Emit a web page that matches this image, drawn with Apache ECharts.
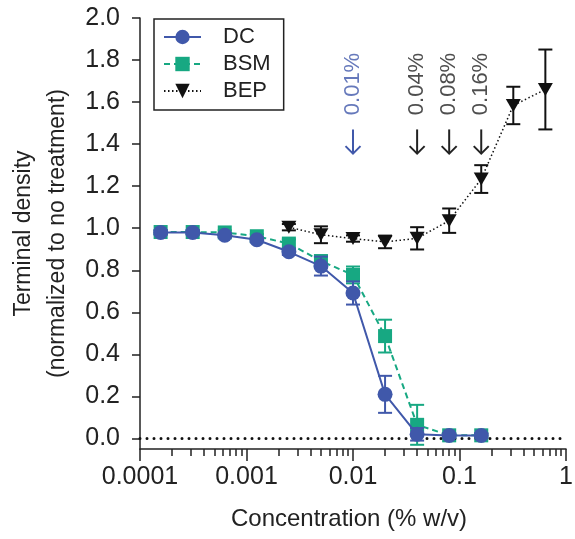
<!DOCTYPE html>
<html>
<head>
<meta charset="utf-8">
<script src="https://cdn.jsdelivr.net/npm/echarts@6/dist/echarts.min.js"></script>
<style>html,body{margin:0;padding:0;background:#fff}#c{width:575px;height:539px}</style>
</head>
<body>
<div id="c"></div>
<script>
// ---- data ----
const dcConc  = [0.00015625, 0.0003125, 0.000625, 0.00125, 0.0025, 0.005, 0.01, 0.02, 0.04, 0.08, 0.16];
const dcMean  = [0.980, 0.980, 0.967, 0.945, 0.888, 0.820, 0.692, 0.210, 0.020, 0.014, 0.014];
const dcErr   = [0.010, 0.010, 0.010, 0.010, 0.015, 0.045, 0.055, 0.088, 0.030, 0.010, 0.010];
const bsmConc = [0.00015625, 0.0003125, 0.000625, 0.00125, 0.0025, 0.005, 0.01, 0.02, 0.04, 0.08, 0.16];
const bsmMean = [0.982, 0.982, 0.980, 0.962, 0.927, 0.844, 0.778, 0.487, 0.065, 0.015, 0.015];
const bsmErr  = [0.010, 0.010, 0.010, 0.010, 0.020, 0.025, 0.040, 0.078, 0.095, 0.010, 0.010];
const bepConc = [0.0025, 0.005, 0.01, 0.02, 0.04, 0.08, 0.16, 0.32, 0.64];
const bepMean = [1.005, 0.969, 0.951, 0.935, 0.952, 1.036, 1.234, 1.584, 1.660];
const bepErr  = [0.015, 0.040, 0.015, 0.030, 0.053, 0.058, 0.066, 0.089, 0.190];
const seriesNames = ['DC', 'BSM', 'BEP'];
const yTickValues = [0, 0.2, 0.4, 0.6, 0.8, 1.0, 1.2, 1.4, 1.6, 1.8, 2.0];
const xDecades = [-4, -3, -2, -1];
const minorMultipliers = [2, 3, 4, 5, 6, 7, 8, 9];
const annotConc = [0.01, 0.04, 0.08, 0.16];
const annotText = ['0.01%', '0.04%', '0.08%', '0.16%'];
const annotTextY = 1.686;
const annotArrowTop = 1.47;
const annotArrowBottom = 1.355;

// ---- styles ----
const FONT = '"Liberation Sans", Arial, Helvetica, sans-serif';
const INK = '#222222';
const BLUE = '#4058aa';
const GREEN = '#17a882';
const BLACK = '#111111';
const annotColors = [BLUE, INK, INK, INK];

const minorTicks = [];
xDecades.forEach(d => minorMultipliers.forEach(m => minorTicks.push(d + Math.log10(m))));

function errSeries(xs, ys, es, color, z) {
  return {
    type: 'custom', silent: true, z: z,
    xAxisIndex: 0, yAxisIndex: 0,
    encode: { x: 0, y: [1, 2] },
    data: xs.map((x, i) => [x, ys[i] - es[i], ys[i] + es[i]]),
    renderItem: function (params, api) {
      const x = api.value(0);
      const lo = api.coord([x, api.value(1)]);
      const hi = api.coord([x, api.value(2)]);
      const w = 7;
      const st = { stroke: color, lineWidth: 2, fill: null };
      return {
        type: 'group', children: [
          { type: 'line', shape: { x1: lo[0], y1: lo[1], x2: hi[0], y2: hi[1] }, style: st },
          { type: 'line', shape: { x1: lo[0] - w, y1: lo[1], x2: lo[0] + w, y2: lo[1] }, style: st },
          { type: 'line', shape: { x1: hi[0] - w, y1: hi[1], x2: hi[0] + w, y2: hi[1] }, style: st }
        ]
      };
    }
  };
}

const chart = echarts.init(document.getElementById('c'), null, { renderer: 'canvas' });
chart.setOption({
  animation: false,
  backgroundColor: '#fff',
  textStyle: { fontFamily: FONT, color: INK },
  grid: { left: 140, right: 9, top: 18, bottom: 90, containLabel: false, outerBoundsMode: 'none' },
  legend: {
    orient: 'vertical', left: 154, top: 19,
    data: seriesNames,
    itemWidth: 37, itemHeight: 18, itemGap: 5,
    padding: [7, 13, 8, 9],
    borderColor: INK, borderWidth: 1.5,
    textStyle: { fontSize: 22, color: INK, fontFamily: FONT, padding: [0, 0, 0, 17], lineHeight: 22 }
  },
  xAxis: [{
    type: 'log', logBase: 10, min: 0.0001, max: 1,
    axisLine: { onZero: false, lineStyle: { color: INK, width: 1.5 } },
    axisTick: { length: 12, lineStyle: { color: INK, width: 1.5 } },
    axisLabel: { fontSize: 25, color: INK, fontFamily: FONT, margin: 16 },
    splitLine: { show: false },
    name: 'Concentration (% w/v)', nameLocation: 'middle', nameGap: 58,
    nameTextStyle: { fontSize: 24, color: INK, fontFamily: FONT, padding: [0, 8, 0, 0] }
  }, {
    type: 'value', min: -4, max: 0, position: 'bottom',
    axisLine: { show: false, onZero: false },
    axisTick: { show: true, length: 7, customValues: minorTicks, lineStyle: { color: INK, width: 1.5 } },
    axisLabel: { show: false },
    splitLine: { show: false }
  }],
  yAxis: {
    type: 'value', min: -0.05, max: 2.0, position: 'left',
    axisLine: { show: true, onZero: false, lineStyle: { color: INK, width: 1.5 } },
    axisTick: { show: true, length: 8, customValues: yTickValues, lineStyle: { color: INK, width: 1.5 } },
    axisLabel: { fontSize: 25, color: INK, fontFamily: FONT, margin: 20, customValues: yTickValues,
      formatter: v => v.toFixed(1) },
    splitLine: { show: false },
    name: 'Terminal density\n(normalized to no treatment)', nameLocation: 'middle', nameRotate: 90, nameGap: 63,
    nameTextStyle: { fontSize: 23, color: INK, fontFamily: FONT, lineHeight: 34 }
  },
  series: [
    errSeries(bepConc, bepMean, bepErr, BLACK, 2),
    errSeries(bsmConc, bsmMean, bsmErr, GREEN, 3),
    errSeries(dcConc, dcMean, dcErr, BLUE, 5),
    {
      name: 'BEP', type: 'line', z: 4,
      data: bepConc.map((x, i) => [x, bepMean[i]]),
      symbol: 'triangle', symbolRotate: 180, symbolSize: [15, 13],
      itemStyle: { color: BLACK },
      lineStyle: { color: BLACK, width: 1.5, type: [1.5, 2.5] }
    },
    {
      name: 'BSM', type: 'line', z: 4,
      data: bsmConc.map((x, i) => [x, bsmMean[i]]),
      symbol: 'rect', symbolSize: 14,
      itemStyle: { color: GREEN },
      lineStyle: { color: GREEN, width: 2, type: [6, 4] }
    },
    {
      name: 'DC', type: 'line', z: 6,
      data: dcConc.map((x, i) => [x, dcMean[i]]),
      symbol: 'circle', symbolSize: 15,
      itemStyle: { color: BLUE },
      lineStyle: { color: BLUE, width: 2 },
      markLine: {
        silent: true, symbol: 'none', label: { show: false },
        lineStyle: { color: BLACK, width: 3, type: [0, 7], cap: 'round' },
        data: [{ yAxis: 0 }]
      }
    },
    {
      name: 'annotText', type: 'scatter', silent: true, z: 7,
      symbol: 'circle', symbolSize: 1, itemStyle: { color: 'rgba(0,0,0,0)' },
      data: annotConc.map((x, i) => ({ value: [x, annotTextY], label: { color: annotColors[i] } })),
      label: { show: true, position: 'inside', rotate: 90, formatter: p => annotText[p.dataIndex],
        fontSize: 22, fontFamily: FONT, align: 'center', verticalAlign: 'middle' }
    },
    {
      name: 'annotArrow', type: 'custom', silent: true, z: 7,
      encode: { x: 0, y: [1, 2] },
      data: annotConc.map(x => [x, annotArrowTop, annotArrowBottom]),
      renderItem: function (params, api) {
        const x = api.value(0);
        const top = api.coord([x, api.value(1)]);
        const bot = api.coord([x, api.value(2)]);
        const h = 7.5;
        const st = { stroke: annotColors[params.dataIndex], lineWidth: 2, fill: null, lineJoin: 'miter' };
        return {
          type: 'group', children: [
            { type: 'line', shape: { x1: top[0], y1: top[1], x2: bot[0], y2: bot[1] - 1 }, style: st },
            { type: 'polyline', shape: { points: [[bot[0] - h, bot[1] - h], [bot[0], bot[1]], [bot[0] + h, bot[1] - h]] }, style: st }
          ]
        };
      }
    }
  ]
});
</script>
</body>
</html>
